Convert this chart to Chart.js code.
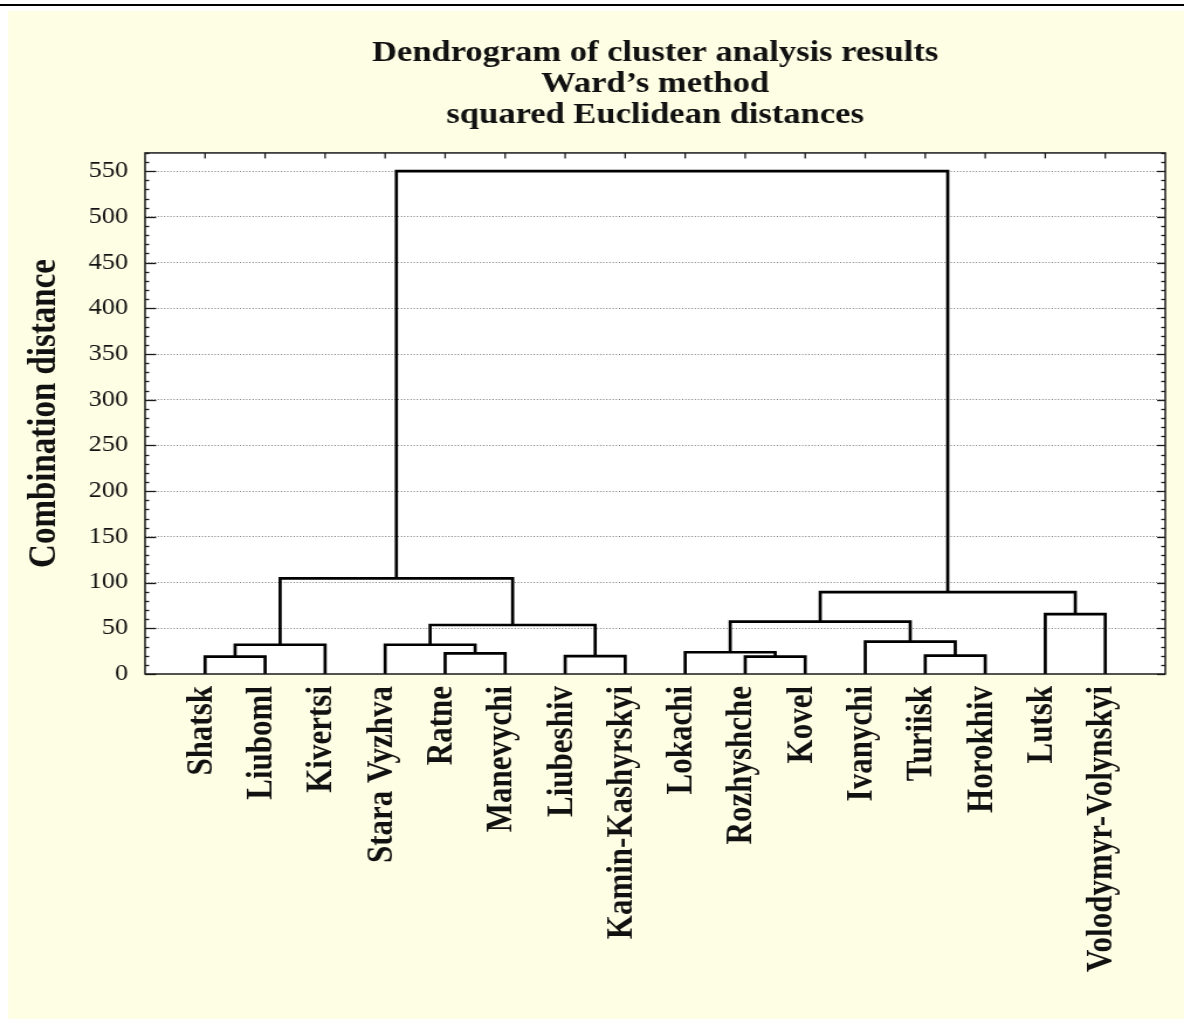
<!DOCTYPE html>
<html>
<head>
<meta charset="utf-8">
<title>Dendrogram of cluster analysis results</title>
<script src="https://cdn.jsdelivr.net/npm/chart.js@4/dist/chart.umd.min.js"></script>
<style>
  html, body { margin: 0; padding: 0; background: #ffffff; overflow: hidden; }
  /* the figure is laid out on a 1012px-wide stage and widened to the page */
  #stage { width: 1012px; height: 1019px; transform: scaleX(1.16996); transform-origin: 0 0; }
  #chart { display: block; width: 1012px; height: 1019px; }
</style>
</head>
<body>
<div id="stage"><canvas id="chart" width="1012" height="1019"></canvas></div>
<script>
// Districts in dendrogram leaf order
const leaves = [
  'Shatsk', 'Liuboml', 'Kivertsi', 'Stara Vyzhva', 'Ratne', 'Manevychi',
  'Liubeshiv', 'Kamin-Kashyrskyi', 'Lokachi', 'Rozhyshche', 'Kovel',
  'Ivanychi', 'Turiisk', 'Horokhiv', 'Lutsk', 'Volodymyr-Volynskyi'
];

// Ward linkage steps: ids 0..15 are districts, each merge creates id 16, 17, ...
const mergeLeft   = [0,    6,    9,  12,  4,    8,  16, 3,  11,   23,   21,   14,   26,   22,    29];
const mergeRight  = [1,    7,    10, 13,  5,    18, 2,  20, 19,   17,   24,   15,   27,   25,    28];
const mergeHeight = [19, 19.5, 19, 20, 22.6, 23.8, 32, 32, 35.4, 53.6, 57.3, 65.4, 89.5, 104.5, 550];

// Axis tick values
const distanceTicks = [0, 50, 100, 150, 200, 250, 300, 350, 400, 450, 500, 550];
const distanceMax = 570;

const titleLines = ['Dendrogram of cluster analysis results', 'Ward’s method', 'squared Euclidean distances'];
const yAxisTitle = 'Combination distance';

const SERIF = '"Liberation Serif", "Times New Roman", Times, serif';
const INK = '#111111';

// Position and height of every node, then one bracket-shaped line per merge
const nodeX = leaves.map((_, i) => i);
const nodeH = leaves.map(() => 0);
const datasets = [];
mergeLeft.forEach((l, k) => {
  const r = mergeRight[k];
  const h = mergeHeight[k];
  nodeX.push((nodeX[l] + nodeX[r]) / 2);
  nodeH.push(h);
  datasets.push({
    data: [
      { x: nodeX[l], y: nodeH[l] },
      { x: nodeX[l], y: h },
      { x: nodeX[r], y: h },
      { x: nodeX[r], y: nodeH[r] }
    ],
    showLine: true,
    borderColor: '#000000',
    borderWidth: 2.7,
    borderJoinStyle: 'miter',
    pointRadius: 0,
    pointHoverRadius: 0,
    fill: false,
    tension: 0
  });
});

// Page background: rule at the top, cream panel, white plotting area
const backdrop = {
  id: 'backdrop',
  beforeDraw(chart) {
    const { ctx, width, height, chartArea: a } = chart;
    ctx.save();
    ctx.fillStyle = '#ffffff';
    ctx.fillRect(0, 0, width, height);
    ctx.fillStyle = '#000000';
    ctx.fillRect(0, 4, width, 2);
    ctx.fillStyle = '#fefee4';
    ctx.fillRect(7, 11, width - 7, height - 11);
    ctx.fillStyle = '#ffffff';
    ctx.fillRect(a.left, a.top, a.right - a.left, a.bottom - a.top);
    ctx.restore();
  }
};

// Frame with inward tick marks on all sides
const frame = {
  id: 'frame',
  afterDraw(chart) {
    const { ctx, chartArea: a, scales: { x, y } } = chart;
    const seg = (x1, y1, x2, y2) => { ctx.beginPath(); ctx.moveTo(x1, y1); ctx.lineTo(x2, y2); ctx.stroke(); };
    ctx.save();
    ctx.strokeStyle = '#1a1a1a';
    ctx.lineWidth = 1.5;
    ctx.strokeRect(a.left, a.top, a.right - a.left, a.bottom - a.top);
    ctx.lineWidth = 1.3;
    for (let v = 0; v <= distanceMax; v += 10) {
      const py = Math.round(y.getPixelForValue(v)) + 0.5;
      const major = distanceTicks.includes(v);
      seg(a.left, py, a.left + (major ? 9.5 : 3.5), py);
      seg(a.right, py, a.right - (major ? 7 : 3.5), py);
    }
    leaves.forEach((_, i) => {
      const px = x.getPixelForValue(i);
      seg(px, a.top, px, a.top + 5.5);
    });
    ctx.restore();
  }
};

new Chart(document.getElementById('chart'), {
  type: 'scatter',
  data: { datasets },
  options: {
    responsive: false,
    animation: false,
    devicePixelRatio: 1,
    events: [],
    layout: { padding: { left: 0, right: 16, top: 0, bottom: 0 } },
    plugins: {
      legend: { display: false },
      tooltip: { enabled: false },
      title: {
        display: true,
        fullSize: false,
        text: titleLines,
        color: INK,
        font: { family: SERIF, size: 29.5, weight: 'bold', lineHeight: 1.05 },
        padding: { top: 37.5, bottom: 22.5 }
      }
    },
    scales: {
      x: {
        type: 'linear',
        min: -1,
        max: leaves.length,
        grid: { display: false, drawTicks: false },
        border: { display: false },
        ticks: {
          stepSize: 1,
          maxTicksLimit: 100,
          autoSkip: false,
          minRotation: 90,
          maxRotation: 90,
          padding: 12,
          labelOffset: -2.5,
          color: INK,
          font: { family: SERIF, size: 31, weight: 'bold' },
          callback: (v) => (Number.isInteger(v) && leaves[v] !== undefined ? leaves[v] : '')
        },
        afterFit(s) { s.height = 345; s.paddingLeft = 0; s.paddingRight = 0; }
      },
      y: {
        type: 'linear',
        min: 0,
        max: distanceMax,
        grid: {
          drawTicks: false,
          lineWidth: 1,
          color: (c) => (c.tick && c.tick.value === 0 ? 'rgba(0,0,0,0)' : '#7a7a7a')
        },
        border: { display: false, dash: [1, 1.7] },
        ticks: {
          stepSize: 50,
          includeBounds: false,
          maxTicksLimit: 100,
          padding: 14.5,
          color: INK,
          font: { family: SERIF, size: 22.5 }
        },
        title: {
          display: true,
          text: yAxisTitle,
          color: INK,
          font: { family: SERIF, size: 33, weight: 'bold' },
          padding: { top: 19, bottom: 0 }
        },
        afterFit(s) { s.width = 124; s.paddingTop = 0; s.paddingBottom = 0; }
      }
    }
  },
  plugins: [backdrop, frame]
});
</script>
</body>
</html>
